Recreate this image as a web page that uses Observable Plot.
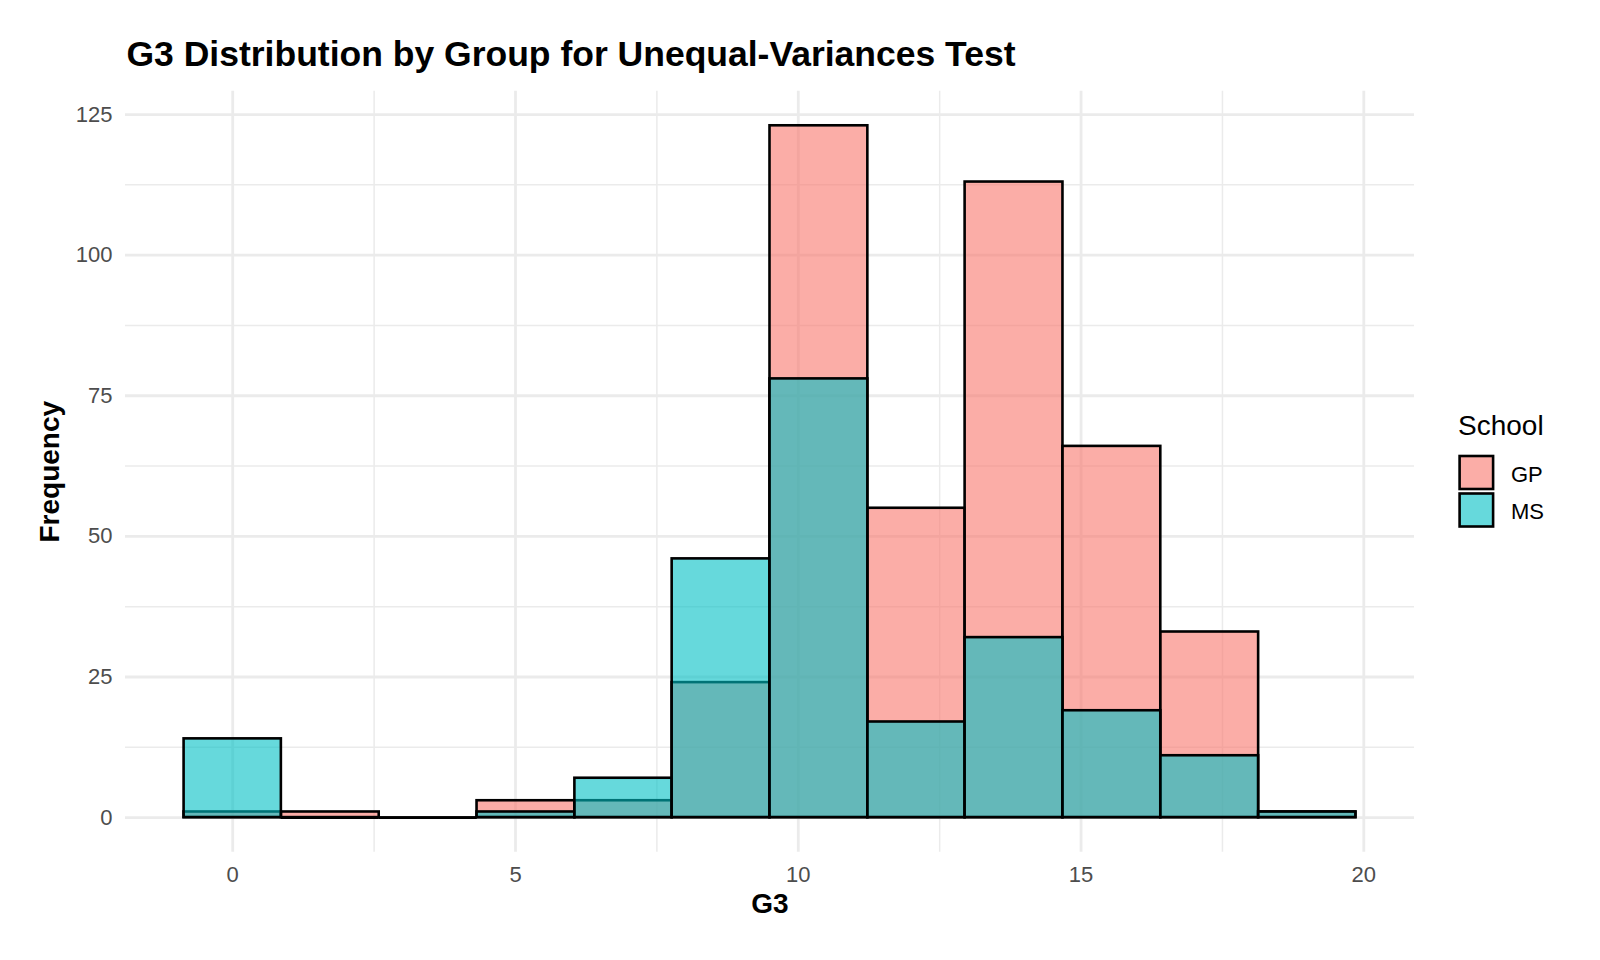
<!DOCTYPE html>
<html>
<head>
<meta charset="utf-8">
<script src="https://cdn.jsdelivr.net/npm/d3@7"></script>
<script src="https://cdn.jsdelivr.net/npm/@observablehq/plot@0.6"></script>
<style>
  html, body { margin: 0; padding: 0; background: #ffffff; }
  #chart { position: relative; width: 1600px; height: 960px; font-family: "Liberation Sans", Arial, Helvetica, sans-serif; }
  #chart > svg.plot { position: absolute; left: 0; top: 0; }
  #legend { position: absolute; left: 1440px; top: 400px; }
</style>
</head>
<body>
<div id="chart"></div>
<script>
// Final grade (G3) histogram, 12 bins, one overlapping layer per school
const binEdges = [-0.86, 0.86, 2.59, 4.32, 6.05, 7.77, 9.5, 11.23, 12.95, 14.68, 16.41, 18.14, 19.86];
const gpCounts = [1, 1, 0, 3, 3, 24, 123, 55, 113, 66, 33, 1];
const msCounts = [14, 0, 0, 1, 7, 46, 78, 17, 32, 19, 11, 1];
const schools = ["GP", "MS"];
const schoolColors = ["#F8766D", "#00BFC4"];
const xTicks = [0, 5, 10, 15, 20];
const xMinorTicks = [2.5, 7.5, 12.5, 17.5];
const yTicks = [0, 25, 50, 75, 100, 125];
const yMinorTicks = [12.5, 37.5, 62.5, 87.5, 112.5];
const titleText = "G3 Distribution by Group for Unequal-Variances Test";
const xLabel = "G3";
const yLabel = "Frequency";
const legendTitle = "School";

const FONT = '"Liberation Sans", Arial, Helvetica, sans-serif';
const FILL_OPACITY = 0.6;
const BAR_STROKE = 2.6;

const countsBySchool = [gpCounts, msCounts];
const rows = schools.flatMap((school, k) =>
  countsBySchool[k].map((count, i) => ({school, x1: binEdges[i], x2: binEdges[i + 1], count}))
);

// ggplot-style 5% expansion on both scales
const xLo = binEdges[0], xHi = binEdges[binEdges.length - 1];
const xPad = 0.05 * (xHi - xLo);
const yMax = d3.max(rows, d => d.count);
const yPad = 0.05 * yMax;

const grid = (w) => ({stroke: "#ebebeb", strokeOpacity: 1, strokeWidth: w});

const barLayers = schools.flatMap(school => [
  Plot.rect(rows.filter(d => d.school === school && d.count > 0), {
    x1: "x1", x2: "x2", y1: () => 0, y2: "count",
    fill: "school", fillOpacity: FILL_OPACITY,
    stroke: "black", strokeWidth: BAR_STROKE
  }),
  // empty bins still show their outline along the baseline
  Plot.ruleY(rows.filter(d => d.school === school && d.count === 0), {
    x1: "x1", x2: "x2", y: "count", stroke: "black", strokeWidth: BAR_STROKE
  })
]);

const plot = Plot.plot({
  width: 1600,
  height: 960,
  marginLeft: 125,
  marginRight: 186,
  marginTop: 90.7,
  marginBottom: 108.3,
  style: {fontFamily: FONT, background: "transparent", overflow: "visible"},
  x: {domain: [xLo - xPad, xHi + xPad]},
  y: {domain: [-yPad, yMax + yPad]},
  color: {domain: schools, range: schoolColors},
  marks: [
    Plot.gridX(xMinorTicks, grid(1.5)),
    Plot.gridY(yMinorTicks, grid(1.5)),
    Plot.gridX(xTicks, grid(2.8)),
    Plot.gridY(yTicks, grid(2.8)),
    ...barLayers,
    Plot.axisX(xTicks, {tickSize: 0, tickPadding: 14, fontSize: 22, fill: "#4d4d4d", label: null}),
    Plot.axisY(yTicks, {tickSize: 0, tickPadding: 13, fontSize: 22, fill: "#4d4d4d", label: null}),
    Plot.text([xLabel], {
      text: d => d, frameAnchor: "bottom", textAnchor: "middle", lineAnchor: "bottom", dy: 61,
      fontSize: 28, fontWeight: "bold", fill: "black"
    }),
    Plot.text([yLabel], {
      text: d => d, frameAnchor: "left", textAnchor: "middle", lineAnchor: "bottom", rotate: -90, dx: -67,
      fontSize: 28, fontWeight: "bold", fill: "black"
    }),
    Plot.text([titleText], {
      text: d => d, frameAnchor: "top-left", textAnchor: "start", lineAnchor: "bottom",
      dx: 1, dy: -25, fontSize: 35.5, fontWeight: "bold", fill: "black"
    })
  ]
});
plot.classList.add("plot");
document.getElementById("chart").appendChild(plot);

// Legend: title plus one outlined key per school
const legend = d3.select("#chart").append("svg")
  .attr("id", "legend")
  .attr("width", 150)
  .attr("height", 140)
  .style("font-family", FONT);

legend.append("text")
  .attr("x", 18).attr("y", 35)
  .attr("font-size", 28)
  .attr("fill", "black")
  .text(legendTitle);

const keyTop = [56, 93.5];
const keyBaseline = [81.7, 119];
schools.forEach((school, k) => {
  legend.append("rect")
    .attr("x", 19.6).attr("y", keyTop[k])
    .attr("width", 33.5).attr("height", 33)
    .attr("fill", schoolColors[k]).attr("fill-opacity", FILL_OPACITY)
    .attr("stroke", "black").attr("stroke-width", BAR_STROKE);
  legend.append("text")
    .attr("x", 71).attr("y", keyBaseline[k])
    .attr("font-size", 22)
    .attr("fill", "black")
    .text(school);
});
</script>
</body>
</html>
